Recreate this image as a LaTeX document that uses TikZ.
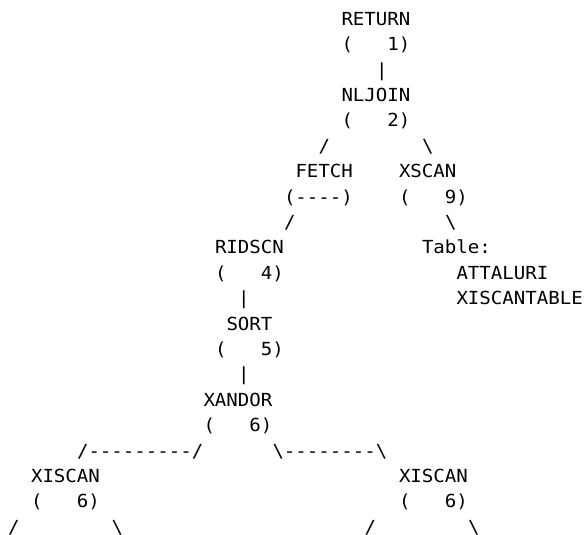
\documentclass[tikz,border=0pt]{standalone}
\usepackage{fontspec}
\newfontfamily\planfont[FakeStretch=1.06]{DejaVu Sans Mono}
\newcommand{\opgap}{\hphantom{000}}
\newcommand{\bs}{\textbackslash}

\begin{document}
\begin{tikzpicture}[x=8.625pt,y=-19.05pt,
        op/.style={
            anchor=base west,
            inner sep=0pt,
            font=\planfont\fontsize{13.5}{19}\selectfont
        }]
        \useasboundingbox (-0.674,0) rectangle (50.11,21.06);
        % return and join
        \node[op] (ret)  at (29,1) {RETURN};
        \node[op] (retn) at (29,2) {(\opgap1)};
        \node[op] (retl) at (32,3) {|};
        \node[op] (nlj)  at (29,4) {NLJOIN};
        \node[op] (nljn) at (29,5) {(\opgap2)};
        \node[op] (nljl) at (27,6) {/};
        \node[op] (nljr) at (36,6) {\bs};
        % fetch side and table scan
        \node[op] (fet)  at (25,7) {FETCH};
        \node[op] (xsc)  at (34,7) {XSCAN};
        \node[op] (fetn) at (24,8) {(----)};
        \node[op] (xscn) at (34,8) {(\opgap9)};
        \node[op] (fetl) at (24,9) {/};
        \node[op] (xscl) at (38,9) {\bs};
        \node[op] (rid)  at (18,10) {RIDSCN};
        \node[op] (tab)  at (36,10) {Table:};
        \node[op] (ridn) at (18,11) {(\opgap4)};
        \node[op] (tabs) at (39,11) {ATTALURI};
        \node[op] (ridl) at (20,12) {|};
        \node[op] (tabt) at (39,12) {XISCANTABLE};
        \node[op] (srt)  at (19,13) {SORT};
        \node[op] (srtn) at (18,14) {(\opgap5)};
        \node[op] (srtl) at (20,15) {|};
        \node[op] (xan)  at (17,16) {XANDOR};
        \node[op] (xann) at (17,17) {(\opgap6)};
        \node[op] (xanl) at (6,18) {/---------/};
        \node[op] (xanr) at (23,18) {\bs--------\bs};
        % index scans
        \node[op] (xisa)  at (2,19) {XISCAN};
        \node[op] (xisb)  at (34,19) {XISCAN};
        \node[op] (xisan) at (2,20) {(\opgap6)};
        \node[op] (xisbn) at (34,20) {(\opgap6)};
        \node[op] (xisal) at (0,21) {/};
        \node[op] (xisar) at (9,21) {\bs};
        \node[op] (xisbl) at (31,21) {/};
        \node[op] (xisbr) at (40,21) {\bs};
    \end{tikzpicture}
\end{document}
